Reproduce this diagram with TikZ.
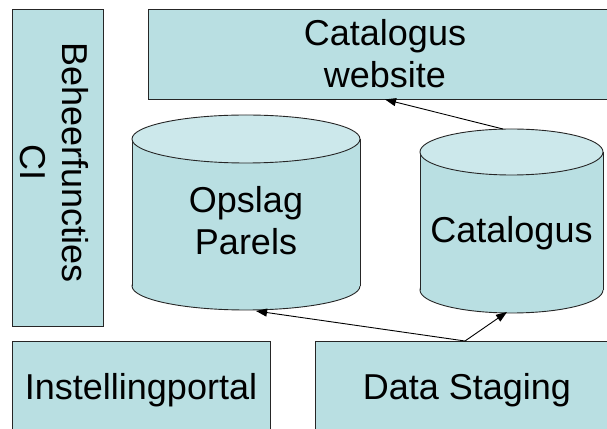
\documentclass[tikz,border=0pt]{standalone}
\usepackage{fontspec}
\setmainfont{Liberation Sans}
\usetikzlibrary{arrows.meta}
\definecolor{boxfill}{RGB}{185,223,226}
\definecolor{topfill}{RGB}{204,232,235}
\begin{document}
\begin{tikzpicture}[x=1pt,y=1pt,
  boxstyle/.style={draw=black!85, line width=0.9pt, fill=boxfill, inner sep=0pt},
  txt/.style={font=\fontsize{36}{42}\selectfont, align=center, inner sep=0pt},
  onetxt/.style={txt, text height=26pt, text depth=8pt},
  cylline/.style={draw=black!85, line width=0.9pt},
  arr/.style={draw=black, line width=0.9pt, -{Triangle[length=11pt,width=8pt]}}]
\useasboundingbox (0,0) rectangle (607,428);
\clip (0,0) rectangle (607,428);

% Beheerfuncties CI
\node[boxstyle, minimum width=91pt, minimum height=317pt] (beheer) at (57.5,260.5) {};
\node[txt, rotate=-90] (beheertxt) at (54.5,265.5) {Beheerfuncties\\CI};

% Catalogus website
\node[boxstyle, txt, minimum width=474pt, minimum height=90pt] (web) at (385,374) {Catalogus\\website};

% Opslag Parels cylinder
\draw[cylline, fill=boxfill] (246,142) ellipse (114 and 24);
\fill[boxfill] (132,142) rectangle (360,289);
\draw[cylline] (132,142) -- (132,289) (360,142) -- (360,289);
\draw[cylline, fill=topfill] (246,289) ellipse (114 and 24);
\node[txt] (opslag) at (246,207) {Opslag\\Parels};

% Catalogus cylinder
\draw[cylline, fill=boxfill] (511.5,138) ellipse (91.5 and 23);
\fill[boxfill] (420,138) rectangle (603,276);
\draw[cylline] (420,138) -- (420,276) (603,138) -- (603,276);
\draw[cylline, fill=topfill] (511.5,276) ellipse (91.5 and 23);
\node[onetxt] (catalogus) at (511.5,194) {Catalogus};

% Bottom boxes
\node[boxstyle, onetxt, minimum width=258pt, minimum height=100pt] (inst) at (141,37) {Instellingportal};
\node[boxstyle, onetxt, minimum width=304pt, minimum height=100pt] (ds) at (467,37) {Data Staging};

% connectors
\coordinate (catT) at (503,299);
\coordinate (catB) at (507,116);
\coordinate (opB) at (256,117);
\coordinate (dsTop) at (465,87);
\draw[arr] (catT) -- (web.south);
\draw[arr] (dsTop) -- (opB);
\draw[arr] (dsTop) -- (catB);
\end{tikzpicture}
\end{document}
